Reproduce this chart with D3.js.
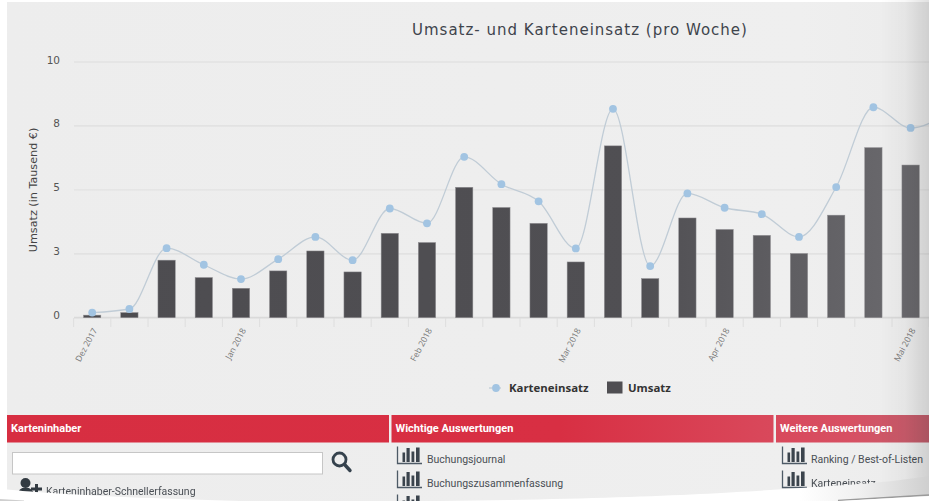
<!DOCTYPE html>
<html>
<head>
<meta charset="utf-8">
<script src="https://cdn.jsdelivr.net/npm/d3@7"></script>
<style>
  html, body { margin: 0; padding: 0; background: #fff; overflow: hidden; }
  svg { display: block; filter: blur(0.45px); }
  .axis path { display: none; }
  .axis line { stroke: none; }
  .menu { font-family: Roboto, sans-serif; font-size: 10.5px; fill: #4a4f55; }
  .head { font-family: Roboto, sans-serif; font-size: 11px; font-weight: bold; fill: #fff; }
</style>
</head>
<body>
<div id="view"></div>
<script>
// one entry per week, only the first week of a month has a label
const weekLabels = ["Dez 2017","","","","Jan 2018","","","","","Feb 2018","","","","Mar 2018","","","","Apr 2018","","","","","Mai 2018",""];
// in Tausend EUR, last week is cut off by the picture so no bar for it
const umsatz = [0.1,0.2,2.25,1.57,1.15,1.83,2.61,1.79,3.3,2.94,5.1,4.31,3.69,2.18,6.72,1.53,3.9,3.45,3.22,2.51,4.01,6.65,5.97,null];
const karteneinsatz = [0.2,0.34,2.72,2.07,1.51,2.29,3.16,2.25,4.27,3.69,6.29,5.22,4.55,2.71,8.17,2.02,4.86,4.3,4.05,3.16,5.11,8.23,7.42,8.0];
const yTicks = [0,2.5,5,7.5,10];
const legendNames = ["Karteneinsatz","Umsatz"];
const panelHeads = ["Karteninhaber","Wichtige Auswertungen","Weitere Auswertungen"];
const menuMiddle = ["Buchungsjournal","Buchungszusammenfassung",""];
const menuRight = ["Ranking / Best-of-Listen","Karteneinsatz"];

const W = 929, H = 501;
const svg = d3.select("#view").append("svg").attr("width",W).attr("height",H);
const defs = svg.append("defs");

function hGrad(id, stops) {
  const g = defs.append("linearGradient").attr("id",id)
    .attr("gradientUnits","userSpaceOnUse")
    .attr("x1",0).attr("x2",W).attr("y1",0).attr("y2",0);
  stops.forEach(s => g.append("stop").attr("offset",s[0]/W).attr("stop-color",s[1]).attr("stop-opacity",s[2] == null ? 1 : s[2]));
}
hGrad("bg",[[0,"#ededed"],[500,"#eeeeee"],[800,"#efefef"],[929,"#ececec"]]);
hGrad("barFill",[[0,"#4d4c50"],[640,"#504f53"],[780,"#5e5d61"],[929,"#6c6b6f"]]);
hGrad("redFill",[[0,"#d72e41"],[560,"#d82f43"],[760,"#d9475a"],[850,"#d75063"],[929,"#c25f6d"]]);
hGrad("shade",[[880,"#000",0],[905,"#000",0.03],[929,"#000",0.12]]);
hGrad("edge",[[0,"#fff"],[800,"#fff"],[860,"#f0f0f0"],[929,"#cfcfcf"]]);

// page
svg.append("rect").attr("x",7).attr("y",2).attr("width",W-7).attr("height",H).attr("fill","url(#bg)");

/* ===== scales ===== */
const x = d3.scaleBand().domain(d3.range(weekLabels.length))
  .range([73.6, 73.6 + 37.2*weekLabels.length]).paddingInner(0.535).paddingOuter(0.2675);
const y = d3.scaleLinear().domain([0,10]).range([317.7,62]);
const cx = i => x(i) + x.bandwidth()/2;

/* ===== grid + axes ===== */
svg.append("g").selectAll("line").data(yTicks).join("line")
  .attr("x1",74).attr("x2",W)
  .attr("y1",d=>y(d)).attr("y2",d=>y(d))
  .attr("stroke",d=>d===0?"#dadada":"#e2e2e2")
  .attr("stroke-width",d=>d===5?1.2:1.7);

const yAxis = svg.append("g").attr("class","axis").attr("transform","translate(74,0)")
  .call(d3.axisLeft(y).tickValues(yTicks).tickFormat(d=>Math.round(d)).tickSize(0).tickPadding(14));
yAxis.selectAll("text")
  .attr("dy","0.1em")
  .style("font-family","'DejaVu Sans',sans-serif").style("font-size","10.5px").style("fill","#555");

// tick marks sit on the band edges
const step = x.step();
svg.append("g").selectAll("line").data(weekLabels).join("line")
  .attr("x1",(d,i)=>cx(i)-step/2).attr("x2",(d,i)=>cx(i)-step/2)
  .attr("y1",318).attr("y2",327)
  .attr("stroke","#dedede").attr("stroke-width",1);

const xAxis = svg.append("g").attr("class","axis").attr("transform","translate(0,318)")
  .call(d3.axisBottom(x).tickSize(0).tickFormat(i=>weekLabels[i]));
xAxis.selectAll("text")
  .attr("text-anchor","end")
  .attr("transform","translate(3,11) rotate(-62)")
  .attr("x",0).attr("y",0).attr("dy","0.3em")
  .style("font-family","'Open Sans',sans-serif").style("font-size","8.5px").style("fill","#777");

svg.append("text")
  .attr("transform","translate(37,190) rotate(-90)")
  .attr("text-anchor","middle")
  .style("font-family","'DejaVu Sans',sans-serif").style("font-size","11.2px").style("fill","#444")
  .text("Umsatz (in Tausend €)");

svg.append("text").attr("x",580).attr("y",35).attr("text-anchor","middle")
  .style("font-family","'DejaVu Sans',sans-serif").style("font-size","15px").style("letter-spacing","1px").style("fill","#3e444c")
  .text("Umsatz- und Karteneinsatz (pro Woche)");

/* ===== bars ===== */
svg.append("g").selectAll("rect")
  .data(umsatz.map((v,i)=>({v,i})).filter(d=>d.v!=null))
  .join("rect")
  .attr("x",d=>x(d.i))
  .attr("y",d=>y(d.v))
  .attr("width",x.bandwidth())
  .attr("height",d=>y(0)-y(d.v))
  .attr("fill","url(#barFill)")
  .attr("stroke","#8d8c90").attr("stroke-width",0.5);

/* ===== line ===== */
const line = d3.line().x((d,i)=>cx(i)).y(d=>y(d)).curve(d3.curveMonotoneX);
svg.append("path").attr("d",line(karteneinsatz))
  .attr("fill","none").attr("stroke","#c0ccd6").attr("stroke-width",1.3);
svg.append("g").selectAll("circle").data(karteneinsatz).join("circle")
  .attr("cx",(d,i)=>cx(i)).attr("cy",d=>y(d)).attr("r",3.9).attr("fill","#a2c4e2");

/* ===== legend ===== */
const lg = svg.append("g").style("font-family","'Open Sans',sans-serif").style("font-size","11.4px").style("font-weight","bold").style("fill","#333");
lg.append("line").attr("x1",489).attr("x2",501).attr("y1",388).attr("y2",388).attr("stroke","#c0ccd6").attr("stroke-width",1.3);
lg.append("circle").attr("cx",496).attr("cy",388).attr("r",3.9).attr("fill","#a2c4e2");
lg.append("text").attr("x",509).attr("y",392).text(legendNames[0]);
lg.append("rect").attr("x",607).attr("y",381.5).attr("width",15.5).attr("height",12).attr("fill","#4f4e52");
lg.append("text").attr("x",628).attr("y",392).text(legendNames[1]);

/* ===== panels below the chart ===== */
const panelX = [[7,389],[391.5,773.5],[776,W]];
svg.append("g").selectAll("rect").data(panelX).join("rect")
  .attr("x",d=>d[0]).attr("y",415).attr("width",d=>d[1]-d[0]).attr("height",27.5).attr("fill","url(#redFill)");
svg.append("g").selectAll("text").data(panelHeads).join("text")
  .attr("class","head").attr("x",(d,i)=>panelX[i][0]+4).attr("y",432).text(d=>d);

svg.append("rect").attr("x",12.5).attr("y",452.5).attr("width",310).attr("height",21.5)
  .attr("fill","#fff").attr("stroke","#c6c6c6").attr("stroke-width",1);

// lupe
const lupe = svg.append("g").attr("fill","none").attr("stroke","#35424d");
lupe.append("circle").attr("cx",339.5).attr("cy",459.5).attr("r",6.5).attr("stroke-width",2.8);
lupe.append("line").attr("x1",345).attr("y1",465).attr("x2",350).attr("y2",470.5).attr("stroke-width",3.4).attr("stroke-linecap","round");

// person + plus
const person = svg.append("g").attr("fill","#333b42");
person.append("circle").attr("cx",25.5).attr("cy",483).attr("r",5);
person.append("path").attr("d","M18,495 Q18,487.5 25.5,487.5 Q33,487.5 34,495 Z");
person.append("rect").attr("x",31).attr("y",487.5).attr("width",11).attr("height",3);
person.append("rect").attr("x",35).attr("y",484).attr("width",3).attr("height",11);

function chartIcon(x0, y0) {
  const g = svg.append("g").attr("transform",`translate(${x0},${y0})`);
  g.append("path").attr("d","M0.5,0 V17 H25").attr("fill","none").attr("stroke","#4d5a66").attr("stroke-width",1.3);
  [[5.5,6,2.6],[9.5,1.5,3.2],[14.5,5,2.8],[19,1,3.6]].forEach(b =>
    g.append("rect").attr("x",b[0]).attr("y",b[1]).attr("width",b[2]).attr("height",15.5-b[1]).attr("fill","#3b444d"));
}
menuMiddle.forEach((t,i) => {
  chartIcon(397, 446.5 + i*24);
  if (t) svg.append("text").attr("class","menu").attr("x",427).attr("y",463 + i*24).text(t);
});
menuRight.forEach((t,i) => {
  chartIcon(782, 446.5 + i*24);
  svg.append("text").attr("class","menu").attr("x",811).attr("y",463 + i*24).text(t);
});
svg.append("text").attr("class","menu").attr("x",46).attr("y",495).text("Karteninhaber-Schnellerfassung");

/* ===== paper edge, right side shadow ===== */
svg.append("rect").attr("x",860).attr("y",0).attr("width",69).attr("height",H).attr("fill","url(#shade)");
svg.append("path").attr("d","M0,489 C16,490 60,496 240,501 H0 Z").attr("fill","#fff");
svg.append("path").attr("d","M0,499 L24,500.5 V501 H0 Z").attr("fill","#cfcfcf");
svg.append("path").attr("d","M440,501 C560,499.5 640,497 700,494 C760,491 800,488 860,484 C885,482 910,479 929,476 V501 Z").attr("fill","url(#edge)");
svg.append("path").attr("d","M838,500.5 L929,495").attr("stroke","#9a9a9a").attr("stroke-width",1.5).attr("fill","none");
svg.append("path").attr("d","M838,501 L929,496 V501 Z").attr("fill","#fff");
</script>
</body>
</html>
